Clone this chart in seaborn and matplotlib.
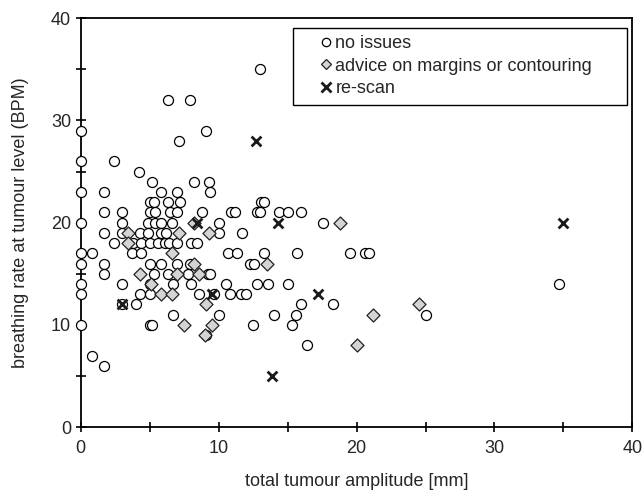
import matplotlib
matplotlib.use('Agg')
import matplotlib.pyplot as plt
import matplotlib.patches as mpatches
from matplotlib.lines import Line2D
from matplotlib.ticker import MultipleLocator
import pandas as pd
import seaborn as sns

# no issues (circles)
ok_x = [13.0,
        6.3, 7.9,
        0, 9.1,
        7.1,
        0, 2.4,
        4.2,
        5.2, 8.2, 9.3,
        0, 1.7, 5.8, 7.0, 9.4,
        5.0, 5.3, 6.3, 7.2, 13.1, 13.3,
        1.7, 3.0, 5.0, 5.4, 6.5, 7.0, 8.8, 10.9, 11.2, 12.8, 13.0, 14.4, 15.0, 16.0,
        0, 3.0, 4.9, 5.4, 5.8, 6.6, 10.0, 17.6,
        1.7, 3.0, 4.3, 4.9, 5.8, 6.2, 10.0, 11.7,
        2.4, 3.8, 4.4, 5.0, 5.6, 6.1, 6.4, 7.0, 8.0, 8.4,
        0, 0.8, 3.7, 4.4, 10.7, 11.3, 13.3, 15.7, 19.5, 20.6, 20.9,
        0, 1.7, 5.0, 5.8, 7.0, 7.9, 12.3, 12.6,
        1.7, 5.3, 6.3, 7.8, 9.2, 9.4,
        0, 3.0, 5.0, 6.7, 8.0, 10.5, 12.8, 13.6, 15.0, 34.7,
        0, 4.3, 5.0, 8.6, 9.7, 10.8, 11.6, 12.0,
        3.0, 4.0, 16.0, 18.3,
        6.7, 10.0, 14.0, 15.6, 25.0,
        0, 5.0, 5.2, 12.5, 15.3,
        9.1, 16.4, 0.8, 1.7]
ok_y = [35,
        32, 32,
        29, 29,
        28,
        26, 26,
        25,
        24, 24, 24,
        23, 23, 23, 23, 23,
        22, 22, 22, 22, 22, 22,
        21, 21, 21, 21, 21, 21, 21, 21, 21, 21, 21, 21, 21, 21,
        20, 20, 20, 20, 20, 20, 20, 20,
        19, 19, 19, 19, 19, 19, 19, 19,
        18, 18, 18, 18, 18, 18, 18, 18, 18, 18,
        17, 17, 17, 17, 17, 17, 17, 17, 17, 17, 17,
        16, 16, 16, 16, 16, 16, 16, 16,
        15, 15, 15, 15, 15, 15,
        14, 14, 14, 14, 14, 14, 14, 14, 14, 14,
        13, 13, 13, 13, 13, 13, 13, 13,
        12, 12, 12, 12,
        11, 11, 11, 11, 11,
        10, 10, 10, 10, 10,
        9, 8, 7, 6]

# advice on margins or contouring (diamonds)
adv_x = [8.2, 18.8, 3.4, 7.1, 9.3, 3.4, 6.6, 8.2, 13.5, 4.3, 7.0,
         8.6, 5.1, 5.8, 6.6, 9.1, 24.5, 21.2, 7.5, 9.5, 9.0, 20.0]
adv_y = [20, 20, 19, 19, 19, 18, 17, 16, 16, 15, 15,
         15, 14, 13, 13, 12, 12, 11, 10, 10, 9, 8]

# re-scan (crosses)
rescan_x = [12.7, 8.4, 14.3, 35.0, 17.2, 9.5, 3.0, 13.9]
rescan_y = [28, 20, 20, 20, 13, 13, 12, 5]

labels = ['no issues', 'advice on margins or contouring', 're-scan']

sns.set_style('white')
plt.rcParams['font.family'] = ['Liberation Sans', 'DejaVu Sans']
fs = 13

fig = plt.figure(figsize=(6.43, 4.92), dpi=100)
ax = fig.add_axes([0.1255, 0.132, 0.858, 0.831])

ok = pd.DataFrame({'x': ok_x, 'y': ok_y})
adv = pd.DataFrame({'x': adv_x, 'y': adv_y})
rs = pd.DataFrame({'x': rescan_x, 'y': rescan_y})

sns.scatterplot(data=ok, x='x', y='y', ax=ax, marker='o', s=52, clip_on=False,
                facecolor='white', edgecolor='black', linewidth=0.9, zorder=3)
sns.scatterplot(data=adv, x='x', y='y', ax=ax, marker='D', s=44, clip_on=False,
                facecolor='#d4d4d4', edgecolor='#222222', linewidth=0.9, zorder=4)
sns.scatterplot(data=rs, x='x', y='y', ax=ax, marker='x', s=50, clip_on=False,
                color='#1a1a1a', linewidth=2.0, zorder=5)

ax.set_xlim(0, 40)
ax.set_ylim(0, 40)
ax.xaxis.set_major_locator(MultipleLocator(10))
ax.xaxis.set_minor_locator(MultipleLocator(5))
ax.yaxis.set_major_locator(MultipleLocator(10))
ax.yaxis.set_minor_locator(MultipleLocator(5))
ax.tick_params(which='both', direction='inout', length=7, width=1.2,
               color='black', labelsize=fs, bottom=True, left=True)
ax.tick_params(axis='x', pad=6)
for sp in ax.spines.values():
    sp.set_color('black')
    sp.set_linewidth(1.3)

ax.set_xlabel('total tumour amplitude [mm]', fontsize=fs, labelpad=11)
ax.set_ylabel('breathing rate at tumour level (BPM)', fontsize=fs, labelpad=16)

# legend box
box = mpatches.Rectangle((0.385, 0.787), 0.606, 0.189, transform=ax.transAxes,
                         facecolor='white', edgecolor='black', linewidth=1.0, zorder=6)
ax.add_patch(box)
handles = [
    Line2D([], [], linestyle='none', marker='o', markersize=6,
           markerfacecolor='white', markeredgecolor='black', markeredgewidth=0.9),
    Line2D([], [], linestyle='none', marker='D', markersize=5,
           markerfacecolor='#d4d4d4', markeredgecolor='#222222', markeredgewidth=0.9),
    Line2D([], [], linestyle='none', marker='x', markersize=6.5,
           color='#1a1a1a', markeredgewidth=2.0),
]
leg = ax.legend(handles, labels, loc='upper left', bbox_to_anchor=(0.437, 0.958),
                frameon=False, fontsize=fs, handlelength=0.5, handletextpad=0.25,
                borderpad=0, borderaxespad=0, labelspacing=0.3)
leg.set_zorder(7)

fig.savefig('out.png', dpi=100)
